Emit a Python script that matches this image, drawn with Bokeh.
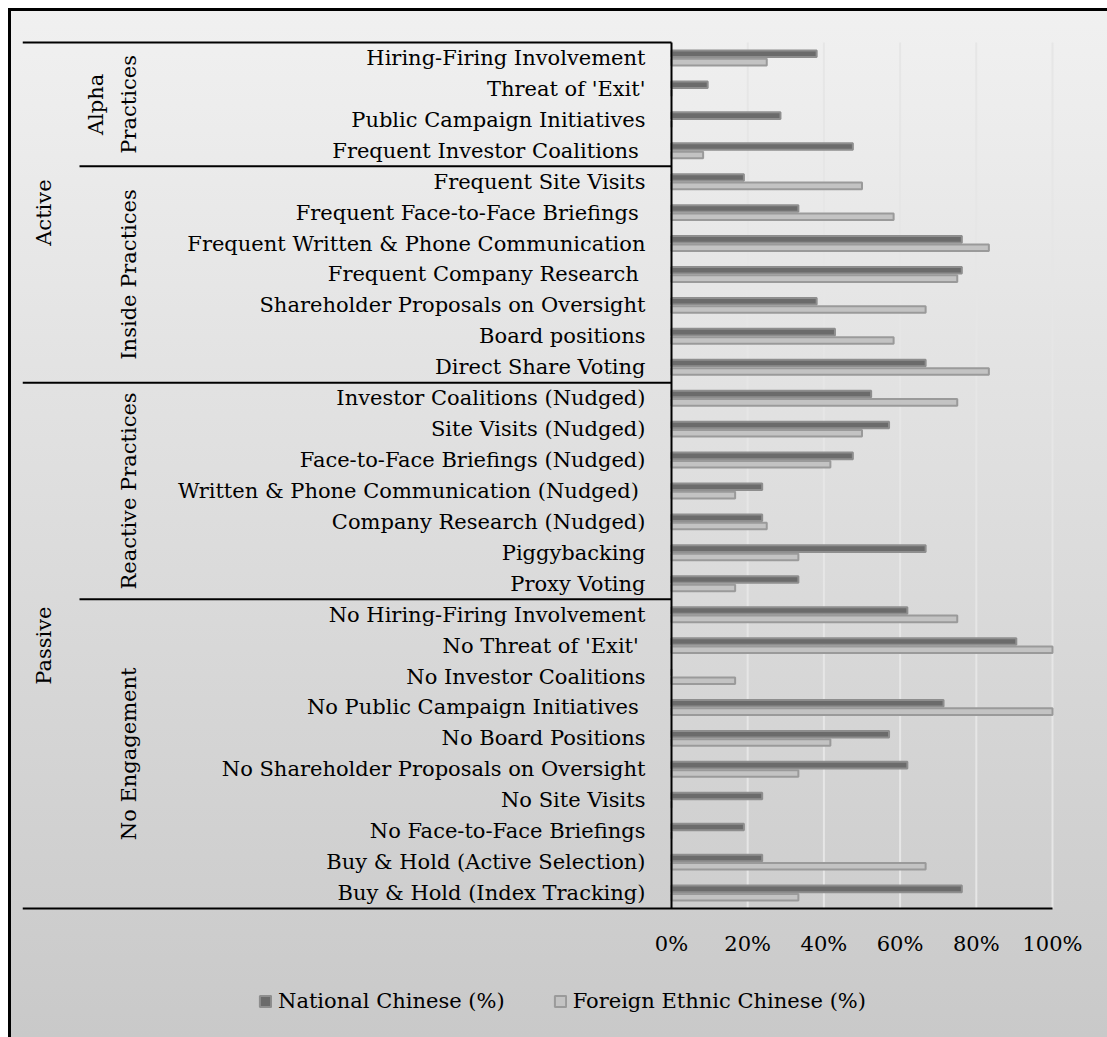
import numpy as np
from bokeh.plotting import figure
from bokeh.models import ColumnDataSource, Range1d, FixedTicker, Legend, LegendItem
from bokeh.core.properties import value
from bokeh.transform import dodge
from bokeh.embed import file_html
from bokeh.resources import INLINE

# ---------------- data ----------------
categories = [
    "Hiring-Firing Involvement", "Threat of 'Exit'", "Public Campaign Initiatives",
    "Frequent Investor Coalitions ", "Frequent Site Visits", "Frequent Face-to-Face Briefings ",
    "Frequent Written & Phone Communication", "Frequent Company Research ",
    "Shareholder Proposals on Oversight", "Board positions", "Direct Share Voting",
    "Investor Coalitions (Nudged)", "Site Visits (Nudged)", "Face-to-Face Briefings (Nudged)",
    "Written & Phone Communication (Nudged) ", "Company Research (Nudged)", "Piggybacking",
    "Proxy Voting", "No Hiring-Firing Involvement", "No Threat of 'Exit' ",
    "No Investor Coalitions", "No Public Campaign Initiatives ", "No Board Positions",
    "No Shareholder Proposals on Oversight", "No Site Visits", "No Face-to-Face Briefings",
    "Buy & Hold (Active Selection)", "Buy & Hold (Index Tracking)",
]
practice_group = (["Alpha\nPractices"] * 4 + ["Inside Practices"] * 7 +
                  ["Reactive Practices"] * 7 + ["No Engagement"] * 10)
mode_group = ["Active"] * 11 + ["Passive"] * 17

national = [38.1, 9.5, 28.6, 47.6, 19.0, 33.3, 76.2, 76.2, 38.1, 42.9, 66.7,
            52.4, 57.1, 47.6, 23.8, 23.8, 66.7, 33.3,
            61.9, 90.5, 0.0, 71.4, 57.1, 61.9, 23.8, 19.0, 23.8, 76.2]
foreign = [25.0, 0.0, 0.0, 8.3, 50.0, 58.3, 83.3, 75.0, 66.7, 58.3, 83.3,
           75.0, 50.0, 41.7, 16.7, 25.0, 33.3, 16.7,
           75.0, 100.0, 16.7, 100.0, 41.7, 33.3, 0.0, 0.0, 66.7, 33.3]
series_names = ["National Chinese (%)", "Foreign Ethnic Chinese (%)"]
tick_values = [0, 20, 40, 60, 80, 100]
tick_labels = ["0%", "20%", "40%", "60%", "80%", "100%"]

# ---------------- layout constants ----------------
W, H = 1107, 1037
FRAME_L, FRAME_T, FRAME_R = 22, 22, 1100
AXIS_X, PLOT_R, PLOT_T, PLOT_B = 671, 1052, 42, 908
N = len(categories)
ROW = (PLOT_B - PLOT_T) / N          # px per category
XPX = (PLOT_R - AXIS_X) / 100.0      # px per percent
FONT = "DejaVu Serif"
FS = "21px"

def xc(px):
    return (px - AXIS_X) / XPX

def yc(px):
    return -0.5 + (PLOT_B - px) / ROW

ypos = [N - 1 - i for i in range(N)]

p = figure(width=W, height=H,
           x_range=Range1d(xc(FRAME_L), xc(FRAME_R)),
           y_range=Range1d(yc(H), yc(FRAME_T)),
           min_border_left=FRAME_L, min_border_right=W - FRAME_R,
           min_border_top=FRAME_T, min_border_bottom=0,
           output_backend="svg", toolbar_location=None)
p.background_fill_color = None
p.border_fill_color = None
p.outline_line_color = None
p.styles = {
    "background-image": ("linear-gradient(#ffffff,#ffffff), linear-gradient(#ffffff,#ffffff), "
                         "linear-gradient(#000000,#000000), linear-gradient(#000000,#000000), "
                         "linear-gradient(to bottom, #f1f1f1, #c9c9c9)"),
    "background-size": "100% 8px, 8px 100%, 100% 3px, 3px 100%, 100% 100%",
    "background-position": "0 0, 0 0, 8px 8px, 8px 8px, 0 0",
    "background-repeat": "no-repeat",
}
p.xgrid.visible = False
p.ygrid.visible = False
p.yaxis.visible = False

# gridlines
gx = tick_values[1:]
p.segment(x0=gx, x1=gx, y0=[-0.5] * len(gx), y1=[N - 0.5] * len(gx),
          line_color="#e6e6e6", line_width=2)

# bars
src = ColumnDataSource(dict(y=ypos, national=national, foreign=foreign))
r1 = p.hbar(y=dodge("y", 0.135), left=0, right="national", height=0.212, source=src,
            fill_color="#6b6b6b", line_color="#8e8e8e", line_width=2)
r2 = p.hbar(y=dodge("y", -0.135), left=0, right="foreign", height=0.212, source=src,
            fill_color="#c3c3c3", line_color="#9a9a9a", line_width=2)

# vertical category axis line and bottom rule
p.segment(x0=[0], x1=[0], y0=[-0.5], y1=[N - 0.5], line_color="black", line_width=2)
p.segment(x0=[xc(22)], x1=[tick_values[-1]], y0=[-0.5], y1=[-0.5],
          line_color="black", line_width=2)

# item labels
p.text(x=[xc(645)] * N, y=ypos, text=categories, text_font=value(FONT),
       text_font_size=value(FS), text_align="right", text_baseline="middle",
       text_color="black")

# group labels and separators
def groups(labels):
    out = []
    start = 0
    for i in range(1, N + 1):
        if i == N or labels[i] != labels[start]:
            out.append((labels[start], start, i - 1))
            start = i
    return out

pg = groups(practice_group)
mg = groups(mode_group)

p.text(x=[xc(112) if "\n" in g[0] else xc(128) for g in pg],
       y=[N - 1 - (g[1] + g[2]) / 2 for g in pg],
       text=[g[0] for g in pg], angle=np.pi / 2, text_font=value(FONT),
       text_font_size=value(FS), text_align="center", text_baseline="middle",
       text_line_height=1.4, text_color="black")
p.text(x=[xc(43)] * len(mg), y=[N - 1 - (g[1] + g[2]) / 2 for g in mg],
       text=[g[0] for g in mg], angle=np.pi / 2, text_font=value(FONT),
       text_font_size=value(FS), text_align="center", text_baseline="middle",
       text_color="black")

sep_y = [N - 0.5 - g[1] for g in pg]
sep_x0 = [xc(22) if any(m[1] == g[1] for m in mg) else xc(79) for g in pg]
p.segment(x0=sep_x0, x1=[0] * len(sep_y), y0=sep_y, y1=sep_y,
          line_color="black", line_width=2)

# x axis, pinned at the bottom of the category block
ax = p.xaxis[0]
ax.fixed_location = -0.5
ax.ticker = FixedTicker(ticks=tick_values)
ax.major_label_overrides = {v: l for v, l in zip(tick_values, tick_labels)}
ax.axis_line_color = None
ax.major_tick_line_color = None
ax.minor_tick_line_color = None
ax.major_label_standoff = 17
ax.major_label_text_font = FONT
ax.major_label_text_font_size = FS
ax.major_label_text_color = "black"

legend = Legend(items=[LegendItem(label=series_names[0], renderers=[r1]),
                       LegendItem(label=series_names[1], renderers=[r2])],
                orientation="horizontal", location=(236, 24),
                glyph_width=14, glyph_height=14, label_standoff=6, spacing=48,
                padding=0, margin=0, label_text_font=FONT, label_text_font_size=FS,
                label_text_color="black", background_fill_alpha=0,
                border_line_alpha=0)
p.add_layout(legend)

open("out.html", "w").write(file_html(p, INLINE))
